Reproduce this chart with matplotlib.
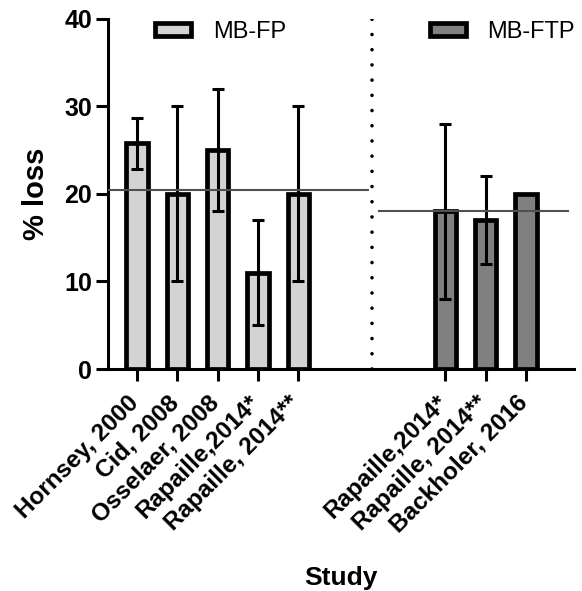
import matplotlib
matplotlib.use("Agg")
import matplotlib.pyplot as plt
import matplotlib.transforms as mtransforms
import numpy as np

# MB-FP group
fp_studies = ["Hornsey, 2000", "Cid, 2008", "Osselaer, 2008", "Rapaille,2014*", "Rapaille, 2014**"]
fp_loss = [25.8, 20, 25, 11, 20]
fp_err_low = [2.9, 10, 7, 6, 10]
fp_err_high = [2.9, 10, 7, 6, 10]
fp_mean = 20.4

# MB-FTP group
ftp_studies = ["Rapaille,2014*", "Rapaille, 2014**", "Backholer, 2016"]
ftp_loss = [18, 17, 20]
ftp_err_low = [10, 5, 0]
ftp_err_high = [10, 5, 0]
ftp_mean = 18.1

plt.rcParams['font.family'] = ['Liberation Sans', 'DejaVu Sans']

fig = plt.figure(figsize=(5.82, 5.91), dpi=100)
ax = fig.add_axes([0.1856, 0.3756, 0.80, 0.5924])

x_fp = np.arange(len(fp_studies))
x_ftp = np.arange(len(ftp_studies)) + 7.65
w = 0.53

b1 = ax.bar(x_fp, fp_loss, w, color="#d3d3d3", edgecolor="black", linewidth=3.4, label="MB-FP", zorder=2)
ax.errorbar(x_fp, fp_loss, yerr=[fp_err_low, fp_err_high], fmt="none", ecolor="black",
            elinewidth=2.2, capsize=4.5, capthick=2.2, zorder=3)
b2 = ax.bar(x_ftp, ftp_loss, w, color="#808080", edgecolor="black", linewidth=3.4, label="MB-FTP", zorder=2)
ax.errorbar(x_ftp[:2], ftp_loss[:2], yerr=[ftp_err_low[:2], ftp_err_high[:2]], fmt="none",
            ecolor="black", elinewidth=2.2, capsize=4.5, capthick=2.2, zorder=3)

# group means
ax.plot([-0.72, 5.74], [fp_mean, fp_mean], color="#505050", lw=1.5, zorder=4)
ax.plot([6.0, 10.7], [ftp_mean, ftp_mean], color="#505050", lw=1.5, zorder=4)

# divider
ax.axvline(5.84, color="black", lw=2.6, dashes=(0.01, 4.2), dash_capstyle="round", zorder=1)

ax.set_xlim(-0.72, 10.83)
ax.set_ylim(0, 40)
ax.set_yticks([0, 10, 20, 30, 40])

for s in ["top", "right"]:
    ax.spines[s].set_visible(False)
for s in ["left", "bottom"]:
    ax.spines[s].set_linewidth(2.2)
ax.tick_params(axis="both", direction="out", width=2.2, length=8.5, pad=3)

ax.set_xticks(list(x_fp) + list(x_ftp))
ax.set_xticklabels(fp_studies + ftp_studies, rotation=45, ha="right", rotation_mode="anchor",
                   fontsize=17.5, fontweight="bold")
shift = mtransforms.ScaledTranslation(-10 / 100, -6 / 100, fig.dpi_scale_trans)
for lab in ax.get_xticklabels():
    lab.set_transform(lab.get_transform() + shift)
for lab in ax.get_yticklabels():
    lab.set_fontsize(18)
    lab.set_fontweight("bold")

ax.set_ylabel("% loss", fontsize=21, fontweight="bold", labelpad=10)
ax.set_xlabel("Study", fontsize=19, fontweight="bold", labelpad=21)

leg1 = ax.legend(handles=[b1], loc="upper left", bbox_to_anchor=(0.055, 1.055), frameon=False,
                 fontsize=17, handlelength=1.55, handleheight=0.5, handletextpad=0.9)
ax.add_artist(leg1)
ax.legend(handles=[b2], loc="upper left", bbox_to_anchor=(0.645, 1.055), frameon=False,
          fontsize=17, handlelength=1.55, handleheight=0.5, handletextpad=0.9)

fig.savefig("out.png", dpi=100)
